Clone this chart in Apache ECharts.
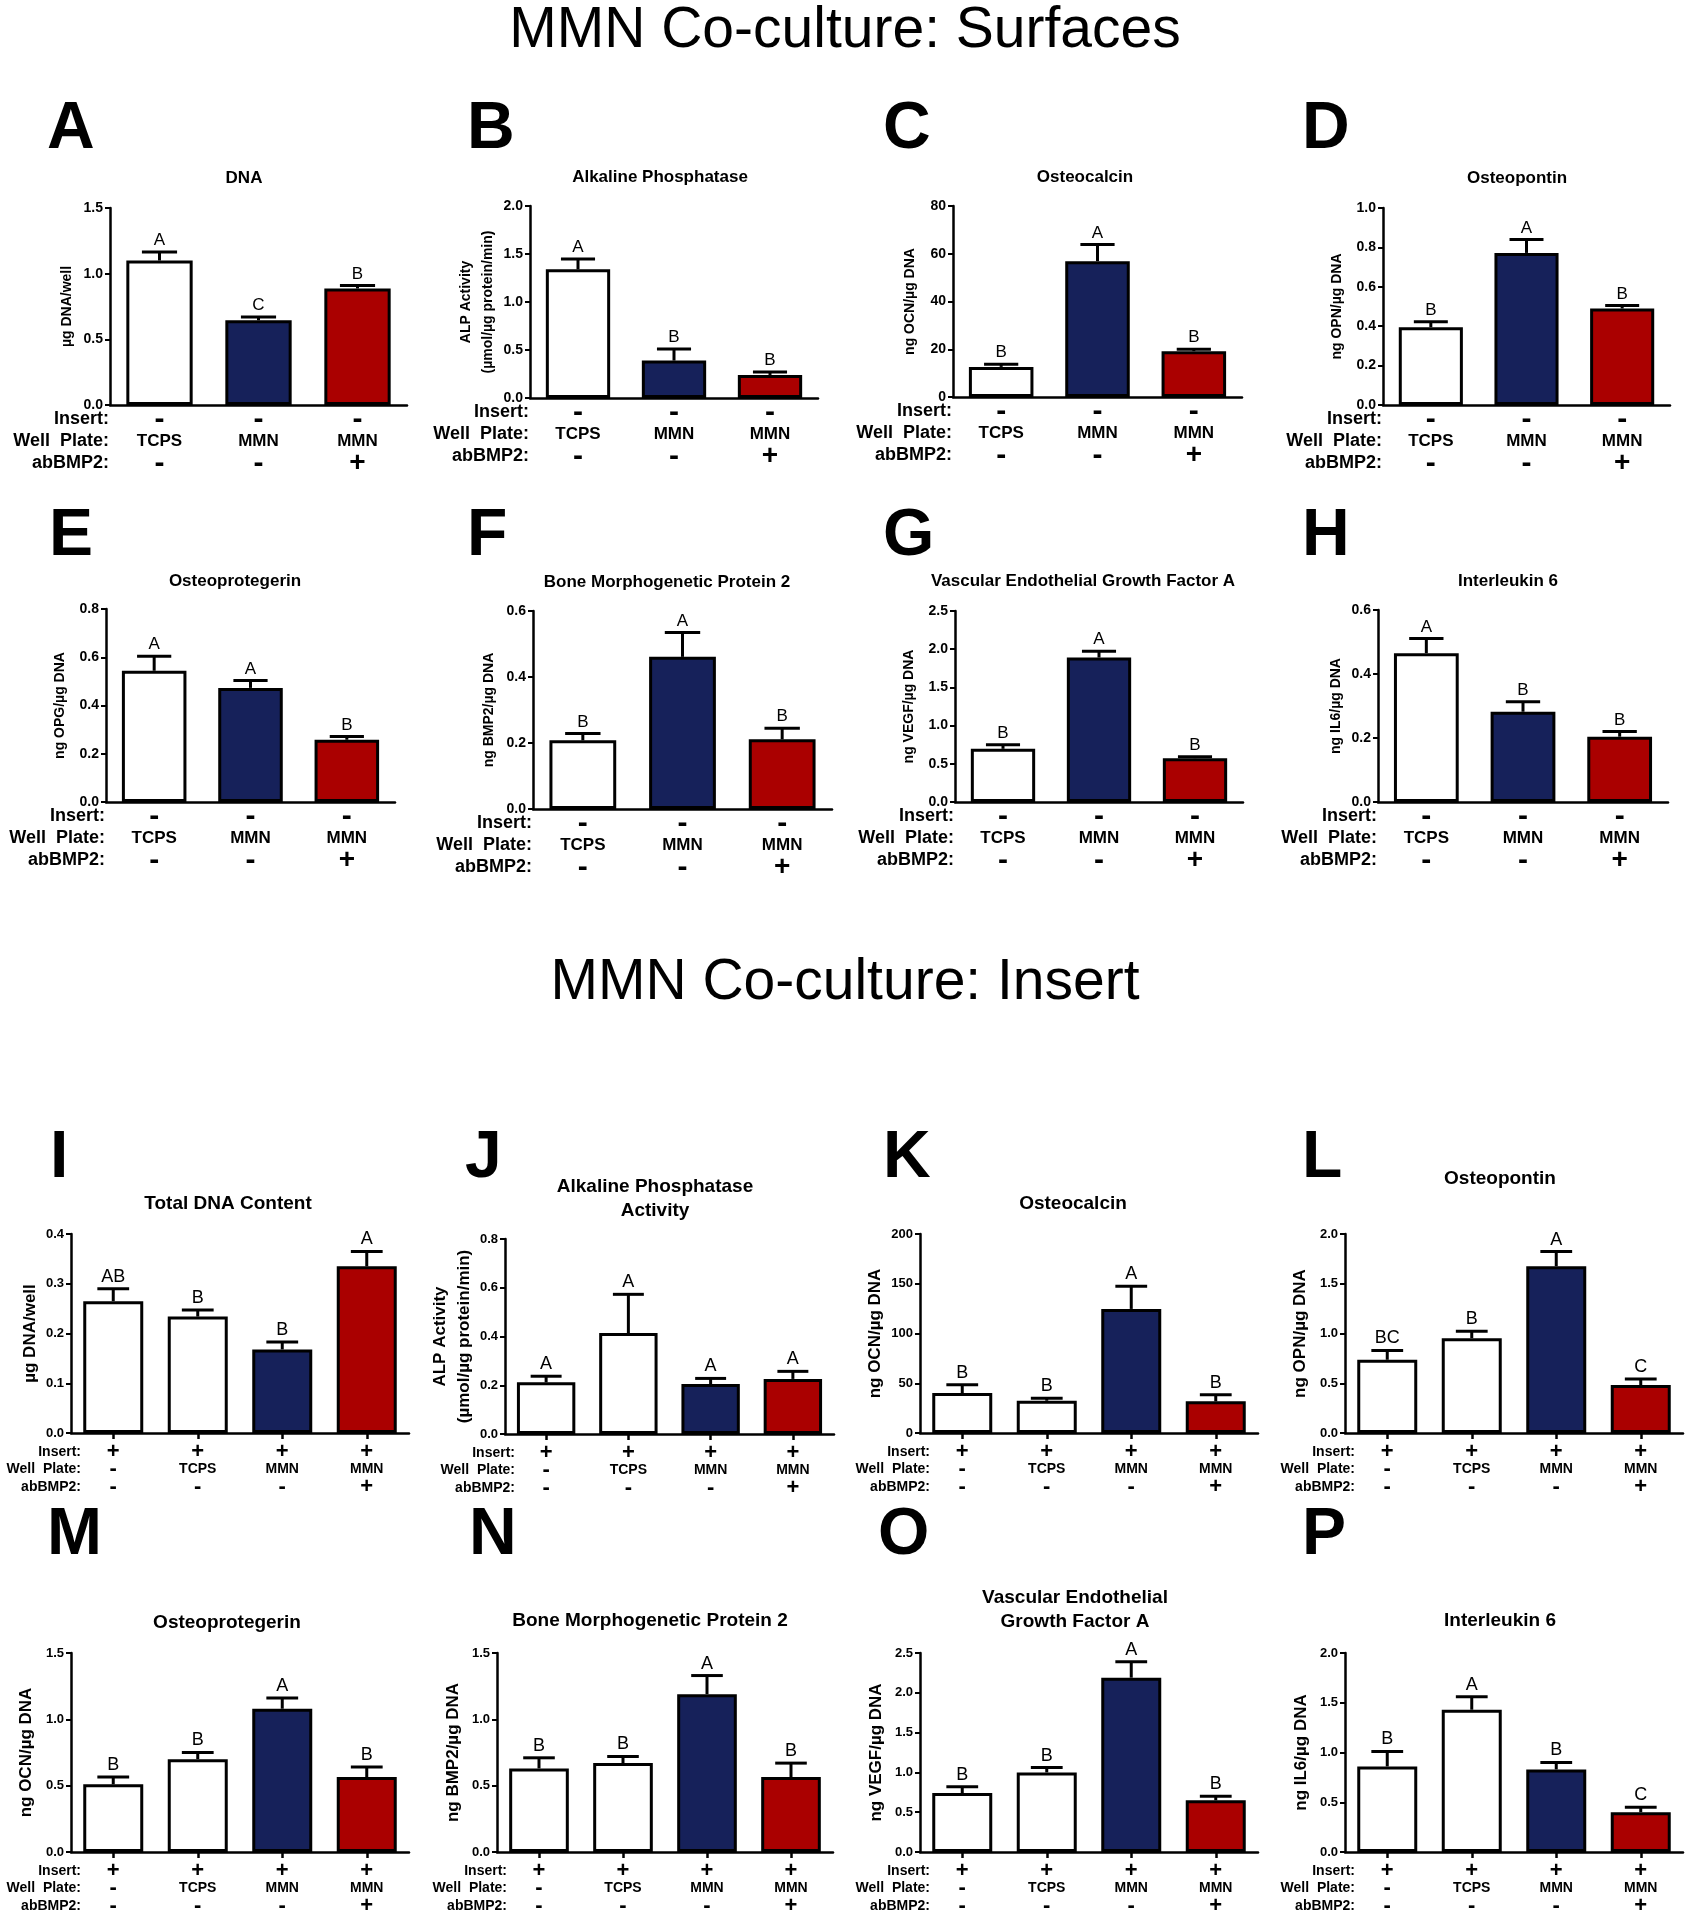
<!DOCTYPE html>
<html><head><meta charset="utf-8">
<script src="https://cdn.jsdelivr.net/npm/echarts@6/dist/echarts.min.js"></script>
<style>html,body{margin:0;padding:0;background:#fff}#c{width:1690px;height:1920px}</style>
</head><body><div id="c"></div>
<script>
// ---- category rows ----
const insertTop = ['-', '-', '-'];
const plateTop  = ['TCPS', 'MMN', 'MMN'];
const abTop     = ['-', '-', '+'];
const insertBot = ['+', '+', '+', '+'];
const plateBot  = ['-', 'TCPS', 'MMN', 'MMN'];
const abBot     = ['-', '-', '-', '+'];
const rowLabels = ['Insert:', 'Well  Plate:', 'abBMP2:'];

// ---- values (mean, upper SEM, significance letters) ----
const valA = [1.10, 0.645, 0.887], errA = [0.065, 0.026, 0.022], sigA = ['A', 'C', 'B'];
const valB = [1.34, 0.39, 0.24],   errB = [0.107, 0.121, 0.031], sigB = ['A', 'B', 'B'];
const valC = [12.6, 56.9, 19.2],   errC = [1.1, 7.0, 0.8],       sigC = ['B', 'A', 'B'];
const valD = [0.395, 0.772, 0.49], errD = [0.027, 0.068, 0.015], sigD = ['B', 'A', 'B'];
const valE = [0.544, 0.473, 0.258], errE = [0.060, 0.031, 0.013], sigE = ['A', 'A', 'B'];
const valF = [0.208, 0.461, 0.211], errF = [0.021, 0.074, 0.034], sigF = ['B', 'A', 'B'];
const valG = [0.696, 1.891, 0.574], errG = [0.052, 0.083, 0.017], sigG = ['B', 'A', 'B'];
const valH = [0.465, 0.282, 0.204], errH = [0.046, 0.031, 0.016], sigH = ['A', 'B', 'B'];
const valI = [0.265, 0.234, 0.168, 0.335], errI = [0.025, 0.013, 0.015, 0.030], sigI = ['AB', 'B', 'B', 'A'];
const valJ = [0.212, 0.414, 0.205, 0.226], errJ = [0.025, 0.159, 0.023, 0.031], sigJ = ['A', 'A', 'A', 'A'];
const valK = [40.1, 32.4, 124.7, 31.8],    errK = [8.4, 2.4, 22.8, 6.7],        sigK = ['B', 'B', 'A', 'B'];
const valL = [0.736, 0.953, 1.676, 0.482], errL = [0.093, 0.070, 0.147, 0.060], sigL = ['BC', 'B', 'A', 'C'];
const valM = [0.51, 0.70, 1.08, 0.565],    errM = [0.055, 0.05, 0.08, 0.075],   sigM = ['B', 'B', 'A', 'B'];
const valN = [0.63, 0.67, 1.19, 0.565],    errN = [0.08, 0.05, 0.14, 0.105],    sigN = ['B', 'B', 'A', 'B'];
const valO = [0.74, 1.00, 2.19, 0.65],     errO = [0.08, 0.06, 0.20, 0.05],     sigO = ['B', 'B', 'A', 'B'];
const valP = [0.86, 1.43, 0.83, 0.40],     errP = [0.15, 0.13, 0.07, 0.05],     sigP = ['B', 'A', 'B', 'C'];

// ---- panel texts / axis ranges ----
const panels = [
  {k:'A', title:['DNA'], yName:'µg DNA/well', max:1.5, step:0.5, dec:1, v:valA, e:errA, s:sigA},
  {k:'B', title:['Alkaline Phosphatase'], yName:'ALP Activity\n(µmol/µg protein/min)', max:2.0, step:0.5, dec:1, v:valB, e:errB, s:sigB},
  {k:'C', title:['Osteocalcin'], yName:'ng OCN/µg DNA', max:80, step:20, dec:0, v:valC, e:errC, s:sigC},
  {k:'D', title:['Osteopontin'], yName:'ng OPN/µg DNA', max:1.0, step:0.2, dec:1, v:valD, e:errD, s:sigD},
  {k:'E', title:['Osteoprotegerin'], yName:'ng OPG/µg DNA', max:0.8, step:0.2, dec:1, v:valE, e:errE, s:sigE},
  {k:'F', title:['Bone Morphogenetic Protein 2'], yName:'ng BMP2/µg DNA', max:0.6, step:0.2, dec:1, v:valF, e:errF, s:sigF},
  {k:'G', title:['Vascular Endothelial Growth Factor A'], yName:'ng VEGF/µg DNA', max:2.5, step:0.5, dec:1, v:valG, e:errG, s:sigG},
  {k:'H', title:['Interleukin 6'], yName:'ng IL6/µg DNA', max:0.6, step:0.2, dec:1, v:valH, e:errH, s:sigH},
  {k:'I', title:['Total DNA Content'], yName:'µg DNA/well', max:0.4, step:0.1, dec:1, v:valI, e:errI, s:sigI},
  {k:'J', title:['Alkaline Phosphatase', 'Activity'], yName:'ALP Activity\n(µmol/µg protein/min)', max:0.8, step:0.2, dec:1, v:valJ, e:errJ, s:sigJ},
  {k:'K', title:['Osteocalcin'], yName:'ng OCN/µg DNA', max:200, step:50, dec:0, v:valK, e:errK, s:sigK},
  {k:'L', title:['Osteopontin'], yName:'ng OPN/µg DNA', max:2.0, step:0.5, dec:1, v:valL, e:errL, s:sigL},
  {k:'M', title:['Osteoprotegerin'], yName:'ng OCN/µg DNA', max:1.5, step:0.5, dec:1, v:valM, e:errM, s:sigM},
  {k:'N', title:['Bone Morphogenetic Protein 2'], yName:'ng BMP2/µg DNA', max:1.5, step:0.5, dec:1, v:valN, e:errN, s:sigN},
  {k:'O', title:['Vascular Endothelial', 'Growth Factor A'], yName:'ng VEGF/µg DNA', max:2.5, step:0.5, dec:1, v:valO, e:errO, s:sigO},
  {k:'P', title:['Interleukin 6'], yName:'ng IL6/µg DNA', max:2.0, step:0.5, dec:1, v:valP, e:errP, s:sigP}
];

// ---- layout (pixels) ----
const layout = {
  A:{box:[110,208,297,197], t:[244,178], L:[47,128], ng:32},
  B:{box:[530,206,288,192], t:[660,177], L:[467,128], ng:29},
  C:{box:[953,206,289,191], t:[1085,177], L:[883,128], ng:32},
  D:{box:[1383,208,287,197], t:[1517,178], L:[1302,128], ng:35},
  E:{box:[106,609,289,193], t:[235,581], L:[49,535], ng:35},
  F:{box:[533,611,299,198], t:[667,582], L:[467,535], ng:33},
  G:{box:[955,611,288,191], t:[1083,581], L:[883,535], ng:35},
  H:{box:[1378,610,290,192], t:[1508,581], L:[1302,535], ng:31},
  I:{box:[71,1234,338,199], t:[228,1204], L:[50,1157], ng:26},
  J:{box:[505,1239,329,195], t:[655,1187], L:[465,1157], ng:26},
  K:{box:[920,1234,338,199], t:[1073,1204], L:[883,1157], ng:32},
  L:{box:[1345,1234,338,199], t:[1500,1179], L:[1302,1157], ng:33},
  M:{box:[71,1653,338,199], t:[227,1623], L:[47,1534], ng:33},
  N:{box:[497,1653,336,199], t:[650,1621], L:[469,1534], ng:32},
  O:{box:[920,1653,338,199], t:[1075,1598], L:[878,1534], ng:32},
  P:{box:[1345,1653,338,199], t:[1500,1621], L:[1302,1534], ng:32}
};

const FONT = '"Liberation Sans", Arial, Helvetica, sans-serif';
const WHITE = '#ffffff', NAVY = '#16215a', RED = '#aa0000';

const grids = [], xAxes = [], yAxes = [], series = [], graphics = [];

graphics.push({type:'text', x:845, y:31, style:{text:'MMN Co-culture: Surfaces', fontSize:57, fontFamily:FONT, fill:'#000', align:'center', verticalAlign:'middle', textAlign:'center', textVerticalAlign:'middle'}});
graphics.push({type:'text', x:845, y:983, style:{text:'MMN Co-culture: Insert', fontSize:57, fontFamily:FONT, fill:'#000', align:'center', verticalAlign:'middle', textAlign:'center', textVerticalAlign:'middle'}});

panels.forEach(function(p, idx) {
  const lay = layout[p.k];
  const bottom = idx >= 8;
  const ins = bottom ? insertBot : insertTop;
  const pl = bottom ? plateBot : plateTop;
  const ab = bottom ? abBot : abTop;
  const colors = bottom ? [WHITE, WHITE, NAVY, RED] : [WHITE, NAVY, RED];
  const lh = bottom ? 17.5 : 22;
  const margin = bottom ? 10 : 3.5;
  const ratio = bottom ? 0.71 : 0.67;
  const [gl, gt, gw, gh] = lay.box;

  grids.push({left:gl, top:gt, width:gw, height:gh, containLabel:false});

  const symSize = bottom ? {m:22, p:22, t:14} : {m:30, p:28, t:17};
  function tok(s) {
    if (s === '-') return '{m|-}';
    if (s === '+') return '{p|+}';
    return '{t|' + s + '}';
  }
  xAxes.push({
    type:'category', gridIndex:idx, data:pl.map(function(_, i){ return String(i); }),
    axisLine:{show:true, lineStyle:{color:'#000', width:2.5}},
    axisTick:{show:bottom, alignWithLabel:true, length:6, lineStyle:{color:'#000', width:2.5}},
    axisLabel:{interval:0, margin:margin, color:'#000',
      formatter:function(v, i){ return tok(ins[i]) + '\n' + tok(pl[i]) + '\n' + tok(ab[i]); },
      rich:{
        m:{fontSize:symSize.m, fontWeight:'bold', fontFamily:FONT, color:'#000', lineHeight:lh},
        p:{fontSize:symSize.p, fontWeight:'bold', fontFamily:FONT, color:'#000', lineHeight:lh},
        t:{fontSize:symSize.t, fontWeight:'bold', fontFamily:FONT, color:'#000', lineHeight:lh}
      }},
    splitLine:{show:false}
  });
  const nameFs = bottom ? 17 : 14;
  const nameLh = bottom ? 24 : 22;
  yAxes.push({
    type:'value', gridIndex:idx, min:0, max:p.max, interval:p.step,
    name:p.yName, nameLocation:'middle', nameRotate:90, nameGap:lay.ng,
    nameTextStyle:{fontSize:nameFs, fontWeight:'bold', fontFamily:FONT, color:'#000', lineHeight:nameLh},
    axisLine:{show:true, lineStyle:{color:'#000', width:2.5}},
    axisTick:{show:true, length:5, lineStyle:{color:'#000', width:2}},
    splitLine:{show:false},
    axisLabel:{fontSize:bottom ? 13 : 14, fontWeight:'bold', fontFamily:FONT, color:'#000', margin:7,
      formatter:function(v){ return v.toFixed(p.dec); }}
  });

  series.push({
    type:'bar', xAxisIndex:idx, yAxisIndex:idx, barWidth:(ratio*100)+'%',
    data:p.v.map(function(v, i){ return {value:v, itemStyle:{color:colors[i], borderColor:'#000', borderWidth:3}}; }),
    silent:true, animation:false, z:2
  });

  const sigs = p.s;
  const sigFs = bottom ? 18 : 17;
  series.push({
    type:'custom', xAxisIndex:idx, yAxisIndex:idx, z:3, animation:false, silent:true, clip:false,
    data:p.v.map(function(v, i){ return [i, v, p.e[i]]; }),
    renderItem:function(params, api){
      const i = api.value(0), v = api.value(1), e = api.value(2);
      const p0 = api.coord([i, v]);
      const p1 = api.coord([i, v + e]);
      const bw = api.size([1, 0])[0] * ratio;
      const cap = bw * 0.265;
      return {type:'group', children:[
        {type:'line', shape:{x1:p0[0], y1:p0[1], x2:p1[0], y2:p1[1]}, style:{stroke:'#000', lineWidth:3}},
        {type:'line', shape:{x1:p1[0]-cap, y1:p1[1], x2:p1[0]+cap, y2:p1[1]}, style:{stroke:'#000', lineWidth:3}},
        {type:'text', x:p1[0], y:p1[1]-3, style:{text:sigs[params.dataIndex], fontSize:sigFs, fontFamily:FONT, fill:'#000',
          align:'center', verticalAlign:'bottom', textAlign:'center', textVerticalAlign:'bottom'}}
      ]};
    }
  });

  // row labels
  const rowX = bottom ? gl + 10 : gl - 1;
  const rowFs = bottom ? 14 : 18;
  rowLabels.forEach(function(t, j){
    graphics.push({type:'text', x:rowX, y:gt + gh + margin + lh*(j+0.5),
      style:{text:t, fontSize:rowFs, fontWeight:'bold', fontFamily:FONT, fill:'#000',
        align:'right', verticalAlign:'middle', textAlign:'right', textVerticalAlign:'middle'}});
  });
  // panel title
  const tFs = bottom ? 19 : 17;
  p.title.forEach(function(t, j){
    graphics.push({type:'text', x:lay.t[0], y:lay.t[1] + j*24,
      style:{text:t, fontSize:tFs, fontWeight:'bold', fontFamily:FONT, fill:'#000',
        align:'center', verticalAlign:'middle', textAlign:'center', textVerticalAlign:'middle'}});
  });
  // panel letter
  graphics.push({type:'text', x:lay.L[0], y:lay.L[1] + 2,
    style:{text:p.k, fontSize:66, fontWeight:'bold', fontFamily:FONT, fill:'#000',
      align:'left', verticalAlign:'middle', textAlign:'left', textVerticalAlign:'middle'}});
});

const chart = echarts.init(document.getElementById('c'), null, {renderer:'canvas'});
chart.setOption({
  backgroundColor:'#ffffff',
  animation:false,
  grid:grids, xAxis:xAxes, yAxis:yAxes, series:series,
  graphic:{elements:graphics}
});
</script></body></html>
